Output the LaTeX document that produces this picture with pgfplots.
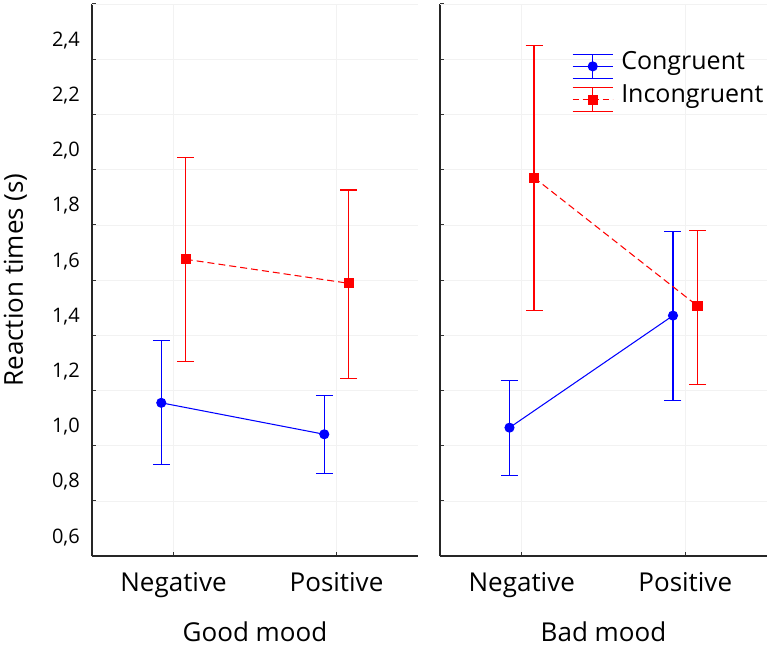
\documentclass[border=0pt]{standalone}
\usepackage{pgfplots}
\usepackage{pgfplotstable}
\usepackage{fontspec}
\setmainfont{Open Sans}
\pgfplotsset{compat=1.18}
\definecolor{cblue}{RGB}{0,0,255}
\definecolor{cred}{RGB}{255,0,0}
\definecolor{gridc}{RGB}{242,242,242}

\pgfplotstableread{
x y ep em
-0.075 1.155 0.225 0.224
0.925 1.041 0.139 0.141
}\congL
\pgfplotstableread{
x y ep em
0.075 1.675 0.368 0.372
1.075 1.588 0.338 0.346
}\incL
\pgfplotstableread{
x y ep em
-0.075 1.065 0.170 0.174
0.925 1.471 0.304 0.306
}\congR
\pgfplotstableread{
x y ep em
0.075 1.971 0.479 0.480
1.075 1.506 0.273 0.283
}\incR

\pgfplotsset{
  panel/.style={
    scale only axis, width=326pt, height=552pt,
    xmin=-0.5, xmax=1.5, ymin=0.6, ymax=2.6,
    axis x line*=bottom, axis y line*=left,
    axis line style={line width=1.3pt, black!85, -},
    xtick={0,1}, xticklabels={Negative,Positive},
    ytick={0.6,0.8,1.0,1.2,1.4,1.6,1.8,2.0,2.2,2.4},
    extra y ticks={2.6}, extra y tick labels={},
    tick align=inside, major tick length=4pt,
    tick style={line width=1pt, black!80},
    grid=major, major grid style={gridc, line width=0.6pt},
    xticklabel style={font=\fontsize{26}{30}\selectfont, inner sep=0pt, anchor=base, yshift=-35pt},
    xlabel style={font=\fontsize{26}{30}\selectfont, inner sep=0pt, at={(axis description cs:0.5,0)}, anchor=base, yshift=-85pt},
    clip=false,
  },
  congr/.style={cblue, line width=1.05pt, mark=*, mark size=4.5pt, mark options={solid, fill=cblue},
    legend image code/.code={
      \draw[##1, mark=none, solid] (0pt,7pt)--(40pt,7pt) (0pt,-17pt)--(40pt,-17pt) (20pt,-17pt)--(20pt,7pt);
      \draw[##1, mark repeat=2, mark phase=2] plot coordinates {(0pt,-5pt) (20pt,-5pt) (40pt,-5pt)};
    },
    error bars/y dir=both, error bars/y explicit, error bars/error bar style={solid, line width=1.05pt},
    error bars/error mark options={rotate=90, mark size=8.5pt, line width=1.05pt, cblue}},
  incongr/.style={cred, line width=1.05pt, dash pattern=on 7pt off 4pt, mark=square*, mark size=4.5pt, mark options={solid, fill=cred},
    legend image code/.code={
      \draw[##1, mark=none, solid] (0pt,7pt)--(40pt,7pt) (0pt,-17pt)--(40pt,-17pt) (20pt,-17pt)--(20pt,7pt);
      \draw[##1, mark repeat=2, mark phase=2, dash pattern=on 6pt off 4pt] plot coordinates {(0pt,-5pt) (20pt,-5pt) (40pt,-5pt)};
    },
    error bars/y dir=both, error bars/y explicit, error bars/error bar style={solid, line width=1.05pt},
    error bars/error mark options={rotate=90, mark size=8.5pt, line width=1.05pt, cred}},
}

\begin{document}
\begin{tikzpicture}
\path[use as bounding box] (0,0) rectangle (781pt,646pt);
\begin{axis}[panel, at={(92pt,90pt)}, anchor=south west,
  xlabel={Good mood},
  ylabel={Reaction times (s)},
  ylabel style={font=\fontsize{26}{30}\selectfont, inner sep=0pt, at={(axis description cs:-0.2117,0.5)}, anchor=base},
  yticklabel style={font=\fontsize{20}{24}\selectfont, inner sep=0pt, anchor=base east, xshift=-12pt, yshift=13pt,
    /pgf/number format/.cd, use comma, fixed, fixed zerofill, precision=1, assume math mode=true},
]
\addplot[congr, forget plot] table[x=x, y=y, y error plus=ep, y error minus=em] {\congL};
\addplot[incongr, forget plot] table[x=x, y=y, y error plus=ep, y error minus=em] {\incL};
\end{axis}
\begin{axis}[panel, at={(440pt,90pt)}, anchor=south west, width=327pt,
  xlabel={Bad mood},
  yticklabel=\empty,
  legend style={at={(0.4037,0.916)}, anchor=north west, draw=none, fill=none,
    font=\fontsize{25}{30}\selectfont, inner sep=0pt, row sep=5pt,
    nodes={inner sep=1pt},
    /tikz/every odd column/.append style={column sep=7pt}},
  legend cell align=left,
]
\addplot[congr] table[x=x, y=y, y error plus=ep, y error minus=em] {\congR};
\addlegendentry{Congruent}
\addplot[incongr] table[x=x, y=y, y error plus=ep, y error minus=em] {\incR};
\addlegendentry{Incongruent}
\end{axis}
\end{tikzpicture}
\end{document}
